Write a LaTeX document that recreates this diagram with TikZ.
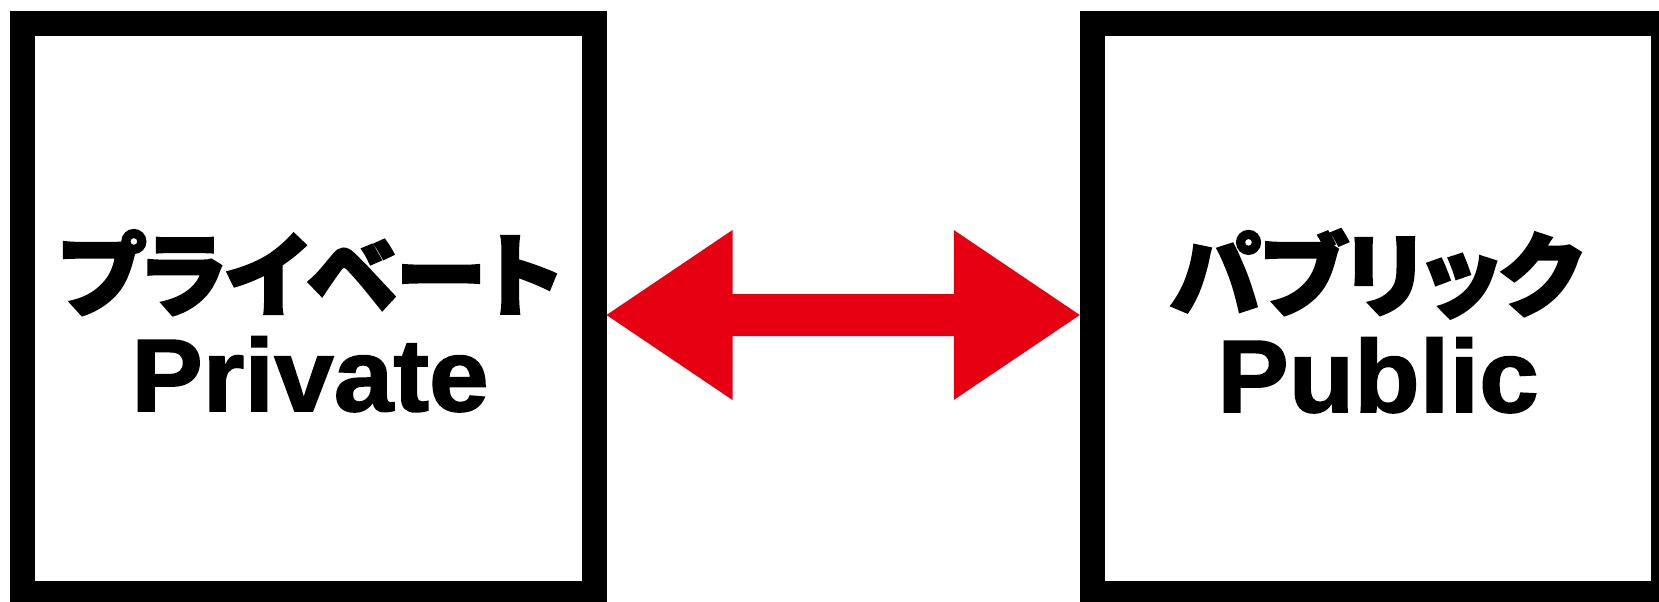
\documentclass[tikz,border=0pt]{standalone}
\usepackage{fontspec}
\setmainfont{Liberation Sans}[BoldFeatures={FakeBold=1.6, FakeStretch=1.04}]
\newfontfamily\cjk{Noto Sans CJK JP}[RawFeature=+palt, BoldFeatures={FakeBold=2.9, RawFeature=+palt}]
\usetikzlibrary{calc}
\definecolor{arrowred}{RGB}{230,0,18}
\tikzset{
  bigbox/.style={draw=black, line width=25pt, minimum width=571.5pt, minimum height=570pt, inner sep=0pt, fill=none},
  jptext/.style={font=\cjk\bfseries\fontsize{91}{91}\selectfont, inner sep=0pt, anchor=base},
  entext/.style={font=\bfseries\fontsize{103}{103}\selectfont, inner sep=0pt, anchor=base},
}
\begin{document}
\begin{tikzpicture}[x=1pt,y=-1pt]
\useasboundingbox (0,0) rectangle (1659,602);
\node[bigbox] (lb) at (308.25,308.5) {};
\node[bigbox] (rb) at (1378,308.5) {};
\node[jptext] (ljp) at (310,309) {プライベート};
\node[entext] (len) at (310,411) {Private};
\node[jptext] (rjp) at (1376,309) {パブリック};
\node[entext] (ren) at (1378,412) {Public};
\coordinate (tl) at ($(lb.east)+(0,6.5)$);
\coordinate (tr) at ($(rb.west)+(0,6.5)$);
\fill[arrowred] (tl) -- ($(tl)+(126,-85)$) -- ($(tl)+(126,-21)$) -- ($(tr)+(-126,-21)$) -- ($(tr)+(-126,-85)$) -- (tr)
  -- ($(tr)+(-126,85)$) -- ($(tr)+(-126,21)$) -- ($(tl)+(126,21)$) -- ($(tl)+(126,85)$) -- cycle;
\end{tikzpicture}
\end{document}
